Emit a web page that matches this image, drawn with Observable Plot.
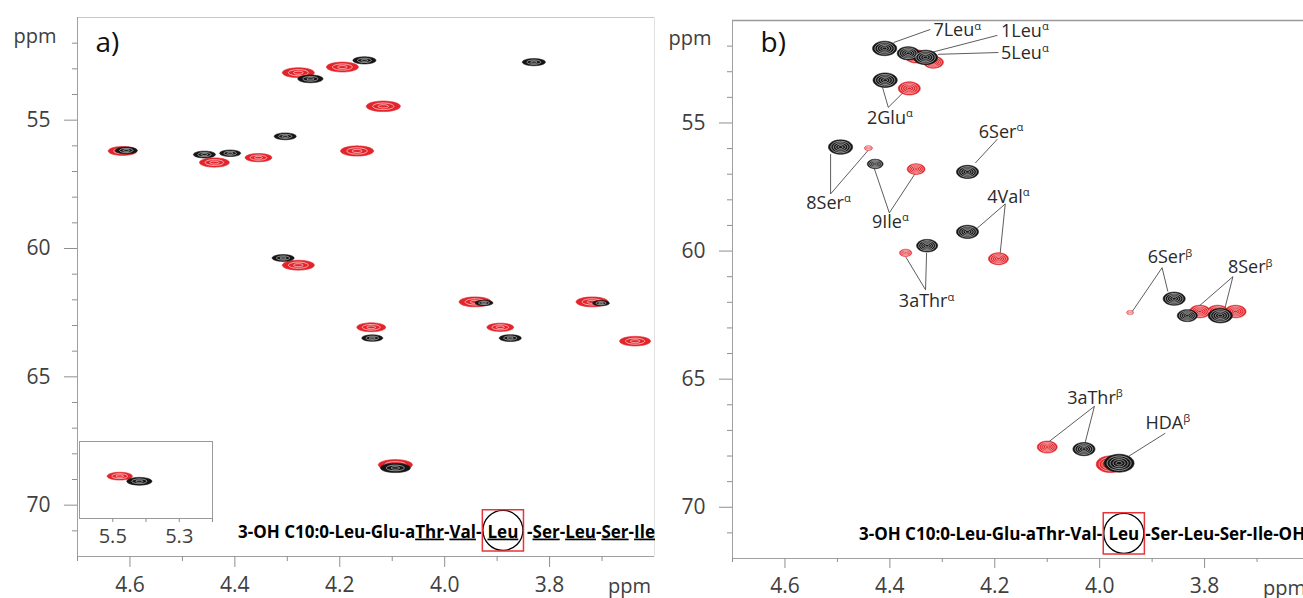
<!DOCTYPE html>
<html><head><meta charset="utf-8">
<script src="https://cdn.jsdelivr.net/npm/d3@7"></script>
<script src="https://cdn.jsdelivr.net/npm/@observablehq/plot@0.6"></script>
<style>
html,body{margin:0;padding:0;background:#fff;overflow:hidden}
#root{position:relative;width:1303px;height:598px;overflow:hidden;background:#fff}
#root svg{position:absolute}
</style></head><body><div id="root"></div>
<script>
// ---------- axis ticks (ppm) ----------
const xMajor = [4.6, 4.4, 4.2, 4.0, 3.8];
const xMinor = [4.7, 4.5, 4.3, 4.1, 3.9, 3.7];
const yMajor = [55, 60, 65, 70];
const yMinor = [52, 53, 54, 56, 57, 58, 59, 61, 62, 63, 64, 66, 67, 68, 69, 71];
const insetMajor = [5.5, 5.3];
const insetMinor = [5.4, 5.2];

// ---------- panel a peaks: 1H ppm, 13C ppm, 1H line width (ppm) ----------
const aRedH = [4.614, 4.439, 4.355, 4.279, 4.279, 4.195, 4.117, 4.167, 4.140, 3.894, 3.637, 3.942, 3.719, 4.094];
const aRedC = [56.20, 56.65, 56.46, 53.15, 60.65, 52.93, 54.46, 56.20, 63.07, 63.07, 63.61, 62.08, 62.08, 68.43];
const aRedW = [0.055, 0.057, 0.051, 0.061, 0.061, 0.061, 0.065, 0.063, 0.055, 0.051, 0.059, 0.061, 0.061, 0.065];
const aBlackH = [4.607, 4.458, 4.409, 4.304, 4.256, 4.308, 4.153, 3.830, 4.138, 3.875, 3.925, 3.702, 4.094];
const aBlackC = [56.18, 56.34, 56.29, 55.63, 53.39, 60.37, 52.67, 52.74, 63.49, 63.49, 62.12, 62.13, 68.55];
const aBlackW = [0.042, 0.042, 0.040, 0.042, 0.048, 0.042, 0.044, 0.044, 0.040, 0.042, 0.034, 0.032, 0.057];
// inset (5.2–5.6 ppm)
const insetRedH = [5.479], insetRedC = [68.85], insetRedW = [0.076];
const insetBlackH = [5.420], insetBlackC = [69.05], insetBlackW = [0.076];

// ---------- panel b peaks ----------
const bRedH = [4.350, 4.317, 4.363, 4.441, 4.350, 4.193, 4.370, 3.942, 3.809, 3.775, 3.741, 4.100, 3.980];
const bRedC = [52.40, 52.63, 53.65, 55.98, 56.80, 60.30, 60.07, 62.40, 62.36, 62.36, 62.36, 67.65, 68.32];
const bRedW = [0.042, 0.038, 0.042, 0.015, 0.034, 0.038, 0.023, 0.013, 0.040, 0.040, 0.040, 0.038, 0.053];
const bBlackH = [4.410, 4.365, 4.332, 4.409, 4.494, 4.428, 4.252, 4.252, 4.329, 3.858, 3.833, 3.770, 4.030, 3.963];
const bBlackC = [52.09, 52.28, 52.44, 53.33, 55.94, 56.60, 56.91, 59.25, 59.79, 61.86, 62.52, 62.52, 67.73, 68.28];
const bBlackW = [0.046, 0.042, 0.046, 0.046, 0.046, 0.030, 0.042, 0.042, 0.040, 0.042, 0.038, 0.046, 0.042, 0.057];

// ---------- panel b assignment labels ----------
const labStartText = ["7Leu^α", "1Leu^α", "5Leu^α"];
const labStartH = [4.317, 4.188, 4.188];
const labStartC = [51.39, 51.40, 52.28];
const labMidText = ["2Glu^α", "6Ser^α", "8Ser^α", "9Ile^α", "4Val^α", "3aThr^α", "6Ser^β", "8Ser^β", "3aThr^β", "HDA^β"];
const labMidH = [4.400, 4.188, 4.517, 4.399, 4.174, 4.330, 3.866, 3.713, 4.009, 3.870];
const labMidC = [54.81, 55.36, 58.12, 58.86, 57.89, 61.97, 60.26, 60.65, 65.75, 66.72];
// leader lines (from peak to label)
const leadH1 = [4.393, 4.327, 4.308, 4.414, 4.374, 4.513, 4.441, 4.430, 4.351, 4.195, 4.237, 4.190, 4.330, 4.370, 3.938, 3.870, 3.814, 3.761, 4.098, 4.028, 3.944];
const leadC1 = [51.86, 52.28, 52.32, 53.61, 53.80, 56.21, 56.06, 56.76, 56.95, 55.63, 59.17, 60.14, 60.07, 60.22, 62.36, 61.58, 62.21, 62.21, 67.46, 67.50, 68.00];
const leadH2 = [4.323, 4.195, 4.193, 4.403, 4.403, 4.513, 4.513, 4.401, 4.401, 4.237, 4.180, 4.180, 4.332, 4.332, 3.881, 3.881, 3.746, 3.746, 4.010, 4.010, 3.875];
const leadC2 = [51.35, 51.58, 52.25, 54.39, 54.39, 57.77, 57.77, 58.51, 58.51, 56.56, 58.16, 58.16, 61.51, 61.51, 60.65, 60.65, 61.00, 61.00, 66.06, 66.06, 67.11];

// ---------- sequences ----------
const seqA = ["3-OH C10:0-Leu-Glu-a_Thr_-_Val_-", "_Leu_", "-_Ser_-_Leu_-_Ser_-_Ile_"];
const seqAH = [3.930, 3.889, 3.843];
const seqB = ["3-OH C10:0-Leu-Glu-aThr-Val-", "Leu", "-Ser-Leu-Ser-Ile-OH"];
const seqBH = [3.995, 3.954, 3.913];
const seqC = 71.05;
const markA = {h: 3.889, c: 70.98};
const markB = {h: 3.954, c: 71.02};

// ---------- styling ----------
const RED = "#e3242b", BLACK = "#151515";
const FONT = "'Open Sans', 'Noto Sans', sans-serif";
const zip = (H, C, W) => H.map((h, i) => ({h, c: C[i], w: W[i]}));

function ellipse(k) {
  return {draw(ctx, size) {
    const r = Math.sqrt(size / Math.PI), ry = r * k, n = 48;
    for (let i = 0; i <= n; ++i) {
      const t = 2 * Math.PI * i / n, x = r * Math.cos(t), y = ry * Math.sin(t);
      i ? ctx.lineTo(x, y) : ctx.moveTo(x, y);
    }
    ctx.closePath();
  }};
}
function peaks(data, color, sym, rings, sw) {
  const m = [Plot.dot(data, {x: "h", y: "c", r: "w", symbol: sym, fill: color, stroke: color, strokeWidth: 0.6})];
  for (const f of rings) m.push(Plot.dot(data, {x: "h", y: "c", r: d => d.w * f, symbol: sym, fill: "none", stroke: "white", strokeWidth: sw, strokeOpacity: 0.9}));
  return m;
}
function axes(o) {
  return [
    Plot.axisX({ticks: xMajor, tickSize: o.xt, tickPadding: 10, tickFormat: d3.format(".1f"), fontSize: 21, stroke: "#8f8f8f", fill: "#404040", label: null}),
    Plot.axisX({ticks: xMinor, tickSize: o.xm, fill: "none", stroke: "#8f8f8f", label: null}),
    Plot.axisY({ticks: yMajor, tickSize: 13, tickPadding: 14, fontSize: 21, stroke: "#8f8f8f", fill: "#404040", label: null}),
    Plot.axisY({ticks: yMinor, tickSize: 5, fill: "none", stroke: "#8f8f8f", label: null})
  ];
}
function seqMarks(parts, H, mark) {
  return [
    Plot.text([parts[0]], {x: () => H[0], y: () => seqC, text: d => d, textAnchor: "end", fontSize: 17, fontWeight: 700, fill: "#000"}),
    Plot.text([parts[1]], {x: () => H[1], y: () => seqC, text: d => d, textAnchor: "middle", fontSize: 17, fontWeight: 700, fill: "#000"}),
    Plot.text([parts[2]], {x: () => H[2], y: () => seqC, text: d => d, textAnchor: "start", fontSize: 17, fontWeight: 700, fill: "#000"}),
    Plot.dot([mark], {x: "h", y: "c", r: 20, stroke: "#000", strokeWidth: 1.3, fill: "none"}),
    Plot.dot([mark], {x: "h", y: "c", r: 23.2, symbol: "square", stroke: "#e8353a", strokeWidth: 1.5, fill: "none"})
  ];
}
// rich text: ^ superscript, _..._ underline
function rich(svg) {
  const ns = "http://www.w3.org/2000/svg";
  svg.querySelectorAll("text").forEach(t => {
    const s = t.textContent;
    if (!/[\^_]/.test(s)) return;
    const [base, sup] = s.split("^");
    while (t.firstChild) t.removeChild(t.firstChild);
    base.split("_").forEach((seg, i) => {
      if (!seg) return;
      const sp = document.createElementNS(ns, "tspan");
      sp.textContent = seg;
      if (i % 2) sp.setAttribute("text-decoration", "underline");
      t.appendChild(sp);
    });
    if (sup) {
      const sp = document.createElementNS(ns, "tspan");
      sp.textContent = sup;
      sp.setAttribute("font-size", "0.62em");
      sp.setAttribute("dy", "-0.6em");
      t.appendChild(sp);
    }
  });
  return svg;
}

const root = document.getElementById("root");

// ---------- panel a ----------
const symA = ellipse(0.31);
const A = Plot.plot({
  width: 655, height: 598, marginLeft: 77, marginRight: 1, marginTop: 17, marginBottom: 42,
  x: {domain: [4.7, 3.6]}, y: {domain: [51, 72], reverse: true},
  r: {type: "linear", domain: [0, 0.1], range: [0, 26.25]},
  style: {fontFamily: FONT, background: "transparent", overflow: "visible"},
  marks: [
    Plot.ruleY([51], {stroke: "#c8c8c8"}),
    Plot.ruleX([3.6], {stroke: "#e2e2e2"}),
    Plot.ruleX([4.7], {stroke: "#a0a0a0"}),
    Plot.ruleY([72], {stroke: "#a0a0a0"}),
    ...axes({xt: 11, xm: 5}),
    ...peaks(zip(aRedH, aRedC, aRedW), RED, symA, [0.62, 0.3], 0.7),
    ...peaks(zip(aBlackH, aBlackC, aBlackW), BLACK, symA, [0.6, 0.28], 0.6),
    Plot.text(["ppm"], {frameAnchor: "top-left", text: d => d, dx: -64, dy: 19, textAnchor: "start", lineAnchor: "middle", fontSize: 20, fill: "#404040"}),
    Plot.text(["ppm"], {frameAnchor: "bottom-right", text: d => d, dx: -25, dy: 30, textAnchor: "middle", lineAnchor: "middle", fontSize: 20, fill: "#404040"}),
    Plot.text(["a)"], {frameAnchor: "top-left", text: d => d, dx: 18, dy: 26, textAnchor: "start", lineAnchor: "middle", fontSize: 28, fill: "#111"}),
    ...seqMarks(seqA, seqAH, markA)
  ]
});
A.style.left = "0px"; A.style.top = "0px";
root.appendChild(rich(A));

// inset
const I = Plot.plot({
  width: 135, height: 110, marginLeft: 1, marginRight: 1, marginTop: 1, marginBottom: 32,
  x: {domain: [5.6, 5.2]}, y: {domain: [67.5, 70.5], reverse: true, axis: null},
  r: {type: "linear", domain: [0, 0.1], range: [0, 16.6]},
  style: {fontFamily: FONT, background: "transparent", overflow: "visible"},
  marks: [
    Plot.frame({stroke: "#9a9a9a", fill: "white"}),
    ...peaks(zip(insetRedH, insetRedC, insetRedW), RED, symA, [0.62, 0.3], 0.7),
    ...peaks(zip(insetBlackH, insetBlackC, insetBlackW), BLACK, symA, [0.6, 0.28], 0.6),
    Plot.axisX({ticks: insetMajor, tickSize: 4, tickPadding: 6, tickFormat: d3.format(".1f"), fontSize: 20, stroke: "#8f8f8f", fill: "#404040", label: null}),
    Plot.axisX({ticks: insetMinor, tickSize: 4, fill: "none", stroke: "#8f8f8f", label: null})
  ]
});
I.style.left = "78px"; I.style.top = "440px";
root.appendChild(I);

// ---------- panel b ----------
const symB = ellipse(0.6);
const B = Plot.plot({
  width: 655, height: 598, marginLeft: 77, marginRight: 1, marginTop: 20, marginBottom: 40,
  x: {domain: [4.7, 3.6]}, y: {domain: [51, 72], reverse: true},
  r: {type: "linear", domain: [0, 0.1], range: [0, 26.25]},
  style: {fontFamily: FONT, background: "transparent", overflow: "visible"},
  marks: [
    Plot.ruleY([51], {stroke: "#9a9a9a", strokeWidth: 1.3}),
    Plot.ruleX([4.7], {stroke: "#a0a0a0"}),
    Plot.ruleY([72], {stroke: "#a0a0a0"}),
    ...axes({xt: 10, xm: 4}),
    Plot.link(leadH1.map((h, i) => i), {x1: i => leadH1[i], y1: i => leadC1[i], x2: i => leadH2[i], y2: i => leadC2[i], stroke: "#333", strokeWidth: 0.8}),
    ...peaks(zip(bRedH, bRedC, bRedW), RED, symB, [0.8, 0.6, 0.4, 0.2], 0.6),
    ...peaks(zip(bBlackH, bBlackC, bBlackW), BLACK, symB, [0.8, 0.6, 0.4, 0.2], 0.6),
    Plot.text(labStartText.map((t, i) => i), {x: i => labStartH[i], y: i => labStartC[i], text: i => labStartText[i], textAnchor: "start", fontSize: 18, fill: "#2a2a2a"}),
    Plot.text(labMidText.map((t, i) => i), {x: i => labMidH[i], y: i => labMidC[i], text: i => labMidText[i], textAnchor: "middle", fontSize: 18, fill: "#2a2a2a"}),
    Plot.text(["ppm"], {frameAnchor: "top-left", text: d => d, dx: -64, dy: 18, textAnchor: "start", lineAnchor: "middle", fontSize: 20, fill: "#404040"}),
    Plot.text(["ppm"], {frameAnchor: "bottom-right", text: d => d, dx: -25, dy: 30, textAnchor: "middle", lineAnchor: "middle", fontSize: 20, fill: "#404040"}),
    Plot.text(["b)"], {frameAnchor: "top-left", text: d => d, dx: 28, dy: 23, textAnchor: "start", lineAnchor: "middle", fontSize: 28, fill: "#111"}),
    ...seqMarks(seqB, seqBH, markB)
  ]
});
B.style.left = "655px"; B.style.top = "0px";
root.appendChild(rich(B));
</script></body></html>
